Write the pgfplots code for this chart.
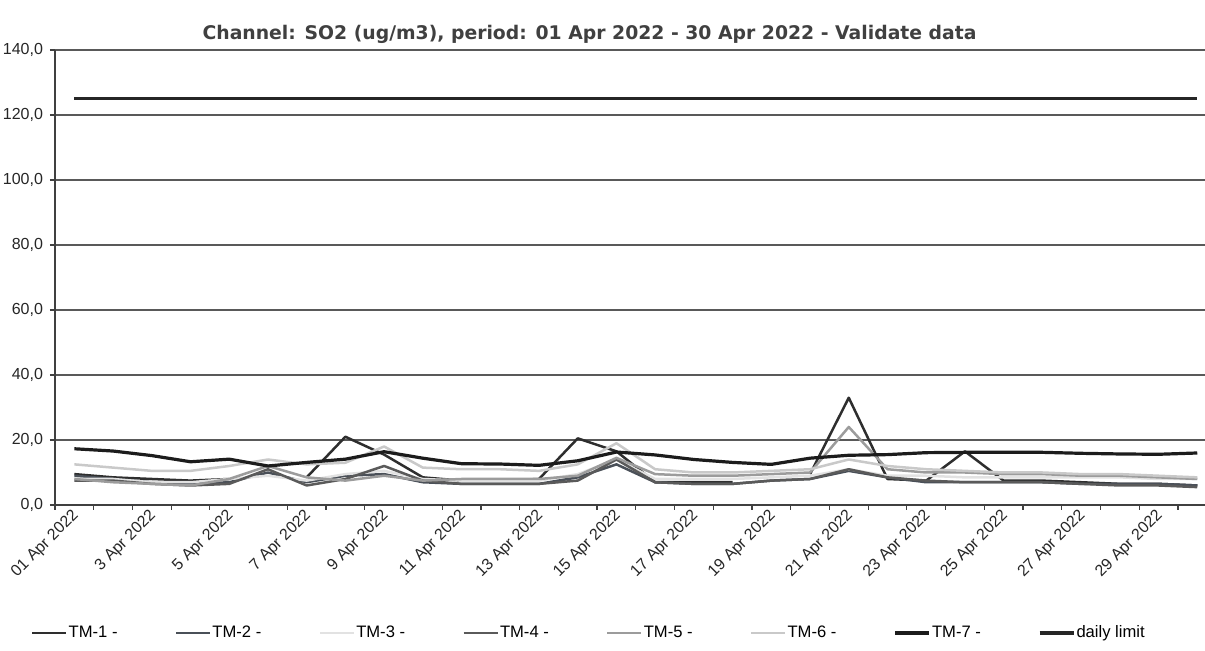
\documentclass[border=0pt]{standalone}
\usepackage{fontspec}
\setmainfont{Liberation Sans}
\newfontfamily\titlefont{DejaVu Sans}
\usepackage{pgfplots}
\usepackage{pgfplotstable}
\pgfplotsset{compat=1.18}

% greyscale scan, so every series is a grey
\definecolor{tmone}{HTML}{2E2E2E}
\definecolor{tmtwo}{HTML}{4A5058}
\definecolor{tmthree}{HTML}{E2E2E2}
\definecolor{tmfour}{HTML}{5A5A5A}
\definecolor{tmfive}{HTML}{9C9C9C}
\definecolor{tmsix}{HTML}{C9C9C9}
\definecolor{tmseven}{HTML}{1C1C1C}
\definecolor{limitc}{HTML}{262626}

\pgfplotstableread{
day tm1  tm2  tm3  tm4  tm5  tm6  tm7  lim
1   9.5  9    8    7.5  8    12.5 17.3 125
2   8.5  8    8    7.5  7    11.5 16.6 125
3   8    7    7    6.5  6.5  10.5 15.2 125
4   7.5  6.5  7    6    6    10.5 13.3 125
5   8    7    8    6.5  8    12   14.1 125
6   nan  10   9    11   12   14   12.0 125
7   8.5  7    7.5  6    8.5  12.5 13.1 125
8   21   9    9.5  8    7.5  13   14.1 125
9   15.5 9.5  10.5 12   9    18   16.4 125
10  8.5  7    8    7.5  7.5  11.5 14.4 125
11  7.5  6.5  7.5  6.5  8    11   12.7 125
12  7.5  6.5  7.5  6.5  8    11   12.6 125
13  8    6.5  7.5  6.5  8    10.5 12.2 125
14  20.5 8.5  9.5  7.5  9    12.5 13.6 125
15  16.5 12.5 14   14   14.5 19   16.3 125
16  7    7    8    7    9.5  11   15.4 125
17  7    6.5  8    6.5  9    10   14.0 125
18  7    6.5  8    6.5  9    10   13.1 125
19  nan  7.5  8.5  7.5  9.5  10.5 12.5 125
20  9.5  8    9    8    10   11   14.4 125
21  33   10.5 11   11   24   14   15.3 125
22  8    8.5  9    8.5  11   12   15.5 125
23  7.5  7    9    7.5  10   11   16.1 125
24  16.5 7    8.5  7    10   10.5 16.2 125
25  7.5  7    8.5  7    9.5  10   16.2 125
26  7.5  7    8.5  7    9.5  10   16.2 125
27  7    6.5  8.5  6.5  9    9.5  15.9 125
28  6.5  6.5  8.5  6    9    9.5  15.7 125
29  6.5  6.5  8    6    8.5  9    15.6 125
30  6    6    8    5.5  8    8.5  16.0 125
}\sodata

\begin{document}
\begin{tikzpicture}
\useasboundingbox (0,0) rectangle (602.5pt,325.5pt);
\begin{axis}[
    at={(27.5pt,73pt)}, anchor=south west,
    scale only axis,
    width=575pt, height=227.5pt,
    xmin=0.5, xmax=30.2,
    ymin=0, ymax=140,
    axis x line=bottom, axis y line=left,
    axis line style={-, black!75, line width=0.7pt},
    unbounded coords=jump,
    tick align=outside,
    major tick length=2.5pt,
    tick style={black!75, line width=0.6pt},
    xtick={0.5,1.5,...,30.5},
    xticklabels={},
    extra x ticks={1,3,...,29},
    extra x tick labels={01 Apr 2022,3 Apr 2022,5 Apr 2022,7 Apr 2022,9 Apr 2022,11 Apr 2022,13 Apr 2022,15 Apr 2022,17 Apr 2022,19 Apr 2022,21 Apr 2022,23 Apr 2022,25 Apr 2022,27 Apr 2022,29 Apr 2022},
    extra x tick style={major tick length=0pt, grid=none,
        xticklabel style={yshift=-4pt, xshift=1pt, rotate=45, anchor=east, inner sep=0pt}},
    ytick={0,20,...,140},
    yticklabel={\pgfmathprintnumber[fixed, fixed zerofill, precision=1, use comma]{\tick}},
    /pgf/number format/assume math mode=true,
    ticklabel style={font=\fontsize{8}{9}\selectfont, text=black!85},
    ymajorgrids,
    grid style={black!65, line width=0.6pt},
    title={Channel: SO2 (ug/m3), period: 01 Apr 2022 - 30 Apr 2022 - Validate data},
    title style={font=\titlefont\bfseries\fontsize{9.4}{11}\selectfont, text=black!75,
        at={(0.4648,1)}, anchor=center, yshift=2pt},
    legend columns=8,
    legend image code/.code={\draw[#1] (0pt,0pt) -- (17pt,0pt);},
    legend style={at={(-0.0212,-0.2813)}, anchor=west, draw=none, fill=none,
        inner sep=0pt, font=\fontsize{8.3}{9}\selectfont,
        nodes={inner sep=0.6pt},
        /tikz/every even column/.append style={column sep=28pt}},
    every axis plot/.append style={line join=round},
]
\addplot[tmone, line width=1.25pt] table[x=day, y=tm1] {\sodata};
\addplot[tmtwo, line width=1.25pt] table[x=day, y=tm2] {\sodata};
\addplot[tmthree, line width=1.25pt] table[x=day, y=tm3] {\sodata};
\addplot[tmfour, line width=1.25pt] table[x=day, y=tm4] {\sodata};
\addplot[tmfive, line width=1.25pt] table[x=day, y=tm5] {\sodata};
\addplot[tmsix, line width=1.25pt] table[x=day, y=tm6] {\sodata};
\addplot[tmseven, line width=1.6pt] table[x=day, y=tm7] {\sodata};
\addplot[limitc, line width=1.6pt] table[x=day, y=lim] {\sodata};
\legend{TM-1 -, TM-2 -, TM-3 -, TM-4 -, TM-5 -, TM-6 -, TM-7 -, daily limit}
\end{axis}
\end{tikzpicture}
\end{document}
